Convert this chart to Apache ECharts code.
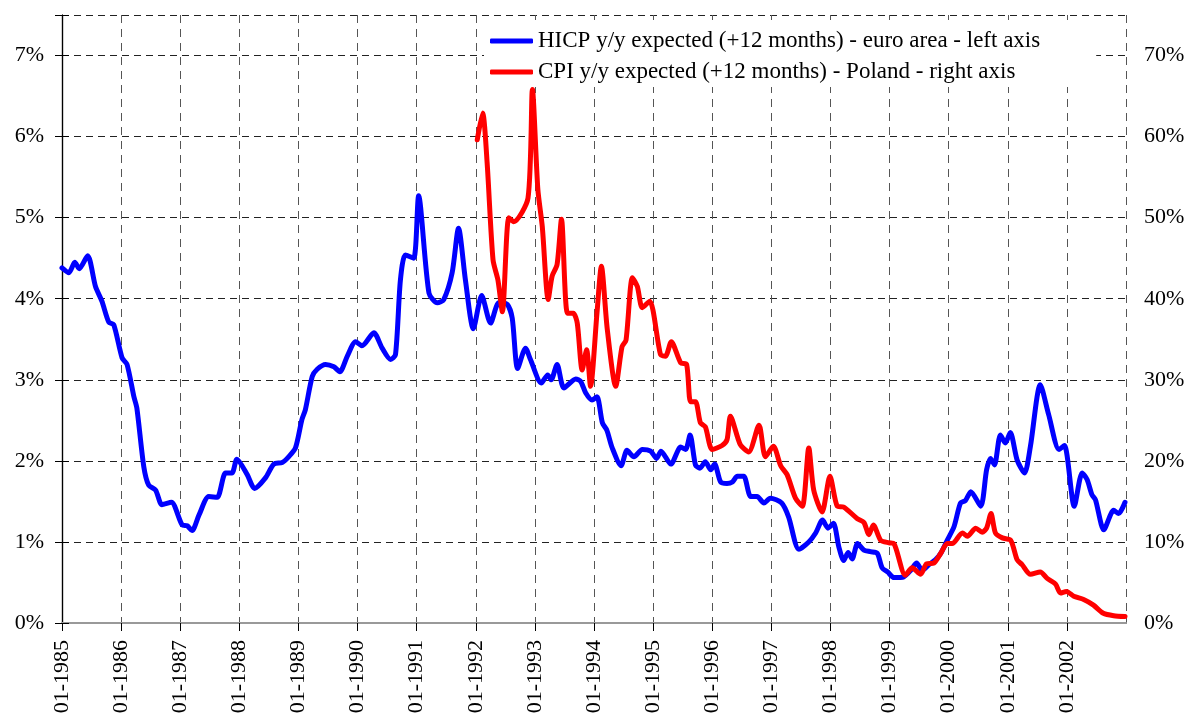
<!DOCTYPE html>
<html>
<head>
<meta charset="utf-8">
<title>Inflation expectations</title>
<script src="https://cdn.jsdelivr.net/npm/echarts@6/dist/echarts.min.js"></script>
<style>
  html, body { margin: 0; padding: 0; background: #fff; }
  #chart { width: 1188px; height: 720px; }
</style>
</head>
<body>
<div id="chart"></div>
<script>
// x values are months counted from 01-1985
const startYear = 1985
const lastMonth = 216

// HICP y/y expected (+12 months) - euro area, % (left axis)
const hicpMonth = [0, 1.4, 2.6, 3.5, 5.2, 6.8, 8.1, 9.5, 10.5, 12.2, 13.2, 14.6, 15.2, 16.6, 17.6, 19, 20.3, 22.2,
  24.4, 25.4, 26.4, 27.8, 29.8, 31.5, 33.2, 34.5, 35.5, 37.6, 39.1, 41.3, 43, 44.7, 46, 47.4,
  48.7, 49.4, 50.8, 51.8, 53.5, 55.2, 56.4, 57.9, 59.6, 60.9, 63.3, 65, 66.7, 67.7, 68.7, 69.7, 71.4,
  72.4, 74.5, 76.2, 77.5, 79.2, 80.5, 81.9, 83.5, 85.2, 87, 88.7, 90.4, 91.4, 92.5, 94.1, 95.1,
  97.3, 98.6, 99.3, 100.5, 101.9, 104.3, 105.3, 106.3, 107.6, 108.6, 109.7, 110.6, 111.7, 113.5,
  114.7, 116.1, 117.8, 119.5, 120.7, 121.6, 123.6, 125.6, 126.6, 127.5, 128.6, 129.5, 130.6, 131.7,
  132.5, 133.7, 135, 136.1, 137.1, 138.4, 139.8, 141.1, 142.5, 143.8, 146.1, 147.5, 149.6, 151.6,
  153, 154.4, 155.5, 156.6, 157.7, 158.7, 159.6, 160.4, 161.5, 162.8, 164.1, 165.5, 166.5, 167.6,
  168.9, 170.9, 172.3, 173.5, 174.6, 176, 177.3, 178.4, 179.7, 181.1, 182.4, 183.4, 184.5, 186.5,
  187.7, 188.5, 189.3, 190.5, 191.5, 192.5, 193.9, 195.4, 196.6, 198.6, 200.3, 202.4, 203.5, 205.5,
  207.1, 208.1, 209.1, 209.8, 211.5, 213.5, 214.5, 215.8]
const hicpValue = [4.38, 4.32, 4.45, 4.37, 4.53, 4.15, 3.97, 3.71, 3.68, 3.27, 3.19, 2.79, 2.65, 1.93, 1.70, 1.64, 1.46, 1.49,
  1.21, 1.20, 1.14, 1.33, 1.56, 1.55, 1.85, 1.85, 2.02, 1.83, 1.66, 1.79, 1.96, 1.98, 2.05, 2.16,
  2.51, 2.63, 3.04, 3.13, 3.19, 3.16, 3.10, 3.29, 3.47, 3.42, 3.58, 3.39, 3.25, 3.31, 4.23, 4.54, 4.50,
  5.27, 4.07, 3.95, 3.99, 4.32, 4.87, 4.23, 3.63, 4.04, 3.70, 3.95, 3.93, 3.76, 3.14, 3.39, 3.25,
  2.96, 3.06, 3.00, 3.19, 2.90, 3.01, 2.98, 2.84, 2.75, 2.79, 2.47, 2.38, 2.16, 1.94,
  2.13, 2.05, 2.14, 2.12, 2.03, 2.12, 1.96, 2.17, 2.14, 2.32, 1.95, 1.91, 1.99, 1.89,
  1.96, 1.74, 1.72, 1.74, 1.81, 1.81, 1.56, 1.56, 1.48, 1.54, 1.48, 1.31, 0.91, 1.00,
  1.11, 1.27, 1.17, 1.23, 0.94, 0.77, 0.87, 0.79, 0.98, 0.90, 0.88, 0.86, 0.68, 0.63,
  0.56, 0.57, 0.65, 0.74, 0.65, 0.72, 0.78, 0.86, 1.02, 1.19, 1.48, 1.51, 1.62, 1.44,
  1.89, 2.03, 1.95, 2.32, 2.22, 2.35, 2.01, 1.85, 2.18, 2.94, 2.57, 2.14, 2.19, 1.44,
  1.85, 1.77, 1.58, 1.52, 1.15, 1.39, 1.35, 1.49]

// CPI y/y expected (+12 months) - Poland, % (right axis)
const plMonth = [84.3, 85.4, 86.3, 87.5, 88.5, 89.4, 90.7, 91.7, 94.6, 95.5, 96.6, 97.5, 98.7, 99.5, 100.5,
  101.4, 102.6, 103.8, 104.6, 105.6, 106.5, 107.3, 108.6, 109.5, 110.7, 112.4, 113.7, 114.5, 115.8,
  116.8, 117.8, 119.3, 121.5, 122.5, 123.7, 125.6, 126.8, 127.6, 128.6, 129.6, 130.6, 132, 134,
  135, 135.7, 137.7, 139.4, 141.5, 142.8, 144.4, 145.9, 147.2, 148.9, 150.3, 151.6, 152.6, 154.3,
  155.9, 157.4, 158.7, 161.4, 162.8, 163.8, 164.7, 166.2, 167.9, 168.9, 171.2, 172.6, 174.3, 175.5,
  177, 178.4, 179.7, 180.7, 182.8, 183.8, 185.5, 186.8, 187.7, 188.6, 189.5, 190.9, 192.6, 193.9,
  194.9, 196.6, 198.6, 200, 201.7, 202.7, 203.9, 205.4, 207.4, 209.4, 211.4, 213.5, 215.8]
const plValue = [59.6, 62.9, 56.8, 44.8, 42.3, 38.4, 50.0, 49.5, 52.4, 65.8, 53.5, 48.9, 39.9, 42.8, 44.2,
  49.8, 38.2, 38.2, 37.0, 31.2, 33.7, 29.2, 38.2, 44.0, 36.2, 29.2, 34.1, 34.9, 42.6,
  41.5, 38.9, 39.7, 33.1, 32.9, 34.7, 32.1, 31.9, 27.3, 27.3, 24.7, 24.2, 21.4, 21.9,
  22.6, 25.5, 22.0, 21.1, 24.4, 20.5, 21.8, 19.4, 18.3, 15.4, 14.4, 21.6, 16.4, 13.7,
  18.1, 14.4, 14.3, 12.9, 12.4, 10.9, 12.1, 10.2, 9.9, 9.8, 5.9, 6.8, 6.0, 7.3,
  7.4, 8.6, 9.8, 9.8, 11.1, 10.7, 11.7, 11.2, 11.7, 13.5, 11.1, 10.5, 10.2, 7.8,
  7.2, 6.0, 6.3, 5.5, 4.8, 3.7, 3.9, 3.3, 2.9, 2.2, 1.2, 0.9, 0.8]

const seriesNames = ['HICP y/y expected (+12 months) - euro area - left axis',
  'CPI y/y expected (+12 months) - Poland - right axis']

function pairs(xs, ys) {
  let out = []
  for (let i = 0; i < xs.length; i++) {
    out.push([xs[i], ys[i]])
  }
  return out
}

const font = 'Liberation Serif'

let myChart = echarts.init(document.getElementById('chart'), null, { renderer: 'canvas' })
myChart.setOption({
  animation: false,
  backgroundColor: '#fff',
  grid: { left: 62, right: 62, top: 15, bottom: 97 },
  legend: {
    orient: 'vertical',
    left: 484,
    top: 20,
    padding: [8, 56, 2, 6],
    backgroundColor: '#fff',
    itemWidth: 43,
    itemHeight: 5,
    itemGap: 5,
    icon: 'roundRect',
    textStyle: { fontFamily: font, fontSize: 23, color: '#000', lineHeight: 26 },
    data: seriesNames
  },
  xAxis: [
    {
      type: 'value',
      min: 0,
      max: lastMonth,
      interval: 12,
      axisLine: { lineStyle: { color: '#000', width: 1.2 } },
      axisTick: { length: 8, lineStyle: { color: '#000' } },
      axisLabel: {
        rotate: 90,
        margin: 17,
        fontFamily: font,
        fontSize: 22,
        color: '#000',
        showMaxLabel: false,
        formatter: function (v) {
          if (v >= lastMonth) return ''
          return '01-' + (startYear + v / 12)
        }
      },
      splitLine: { show: true, lineStyle: { color: '#555', type: [8, 6], width: 1 } }
    },
    {
      // grey frame line along the top
      type: 'value',
      position: 'top',
      min: 0,
      max: lastMonth,
      interval: 12,
      axisLine: { lineStyle: { color: '#999', width: 2 } },
      axisTick: { show: false },
      axisLabel: { show: false },
      splitLine: { show: false }
    }
  ],
  yAxis: [
    {
      type: 'value',
      min: 0,
      max: 7.5,
      interval: 1,
      axisLine: { show: true, lineStyle: { color: '#000', width: 1.2 } },
      axisTick: { show: true, length: 7, lineStyle: { color: '#000' } },
      axisLabel: {
        margin: 18,
        fontFamily: font,
        fontSize: 22,
        color: '#000',
        formatter: function (v) { return v > 7 ? '' : v + '%' }
      },
      splitLine: { show: true, lineStyle: { color: '#222', type: [7, 5], width: 1 } }
    },
    {
      type: 'value',
      min: 0,
      max: 75,
      interval: 10,
      position: 'right',
      axisLine: { show: true, lineStyle: { color: '#000', width: 1.2 } },
      axisTick: { show: true, length: 7, lineStyle: { color: '#000' } },
      axisLabel: {
        margin: 18,
        fontFamily: font,
        fontSize: 22,
        color: '#000',
        formatter: function (v) { return v > 70 ? '' : v + '%' }
      },
      splitLine: { show: false }
    }
  ],
  series: [
    {
      name: seriesNames[0],
      type: 'line',
      yAxisIndex: 0,
      data: pairs(hicpMonth, hicpValue),
      symbol: 'none',
      smooth: 0.25,
      color: '#0000ff',
      lineStyle: { width: 5, color: '#0000ff', cap: 'round', join: 'round' }
    },
    {
      name: seriesNames[1],
      type: 'line',
      yAxisIndex: 1,
      data: pairs(plMonth, plValue),
      symbol: 'none',
      smooth: 0.25,
      color: '#ff0000',
      lineStyle: { width: 5, color: '#ff0000', cap: 'round', join: 'round' }
    }
  ]
})
</script>
</body>
</html>
